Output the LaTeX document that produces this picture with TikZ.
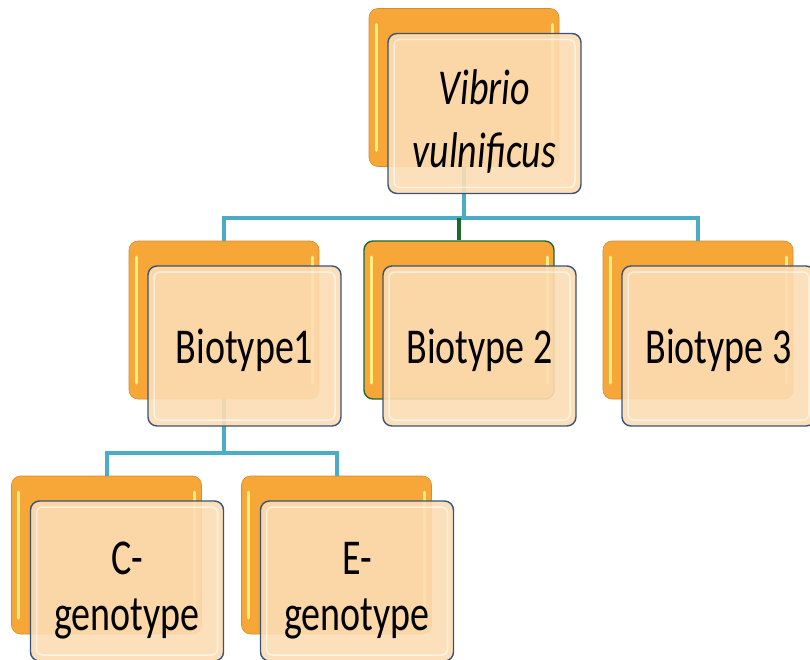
\documentclass[tikz,border=0pt]{standalone}
\usepackage{fontspec}
\setmainfont{Carlito}
\definecolor{vvorange}{RGB}{247,166,56}
\definecolor{vvlight}{RGB}{255,238,130}
\definecolor{vvpeach}{RGB}{252,221,180}
\definecolor{vvframe}{RGB}{58,82,120}
\definecolor{vvlink}{RGB}{75,172,198}
\definecolor{vvgreen}{RGB}{30,105,45}

\newcommand{\boxtext}[2][6pt]{\raisebox{-#1}[\height][\depth]{\scalebox{1}[1.32]{\begin{tabular}{@{}c@{}}#2\end{tabular}}}}

\begin{document}
\begin{tikzpicture}[x=1pt,y=-1pt,
  backbox/.style={draw=vvorange!85!black,line width=0.6pt,fill=vvorange,
    rounded corners=9pt,minimum width=190pt,minimum height=158pt,inner sep=0pt,
    path picture={
      \draw[vvlight,line width=3pt,line cap=round]
        ([shift={(7,16)}]path picture bounding box.north west) --
        ([shift={(7,-16)}]path picture bounding box.south west);
      \draw[vvlight,line width=3pt,line cap=round]
        ([shift={(-7,16)}]path picture bounding box.north east) --
        ([shift={(-7,-16)}]path picture bounding box.south east);}},
  frontbox/.style={draw=vvframe,line width=1.4pt,fill=vvpeach,fill opacity=0.9,
    text opacity=1,rounded corners=9pt,minimum width=193pt,minimum height=160pt,
    inner sep=0pt,align=center,font=\fontsize{38}{44}\selectfont,
    path picture={
      \draw[white,opacity=0.6,line width=1.5pt,rounded corners=6pt]
        ([shift={(6,6)}]path picture bounding box.north west) rectangle
        ([shift={(-6,-6)}]path picture bounding box.south east);}},
  link/.style={vvlink,line width=4pt}]
  \clip (0,0) rectangle (810,660);
  \useasboundingbox (0,0) rectangle (810,660);

  \node[backbox] (vvback) at (464,87.5) {};
  \node[backbox] (b1back) at (224,320) {};
  \node[backbox,draw=vvgreen,line width=1.4pt] (b2back) at (459,320) {};
  \node[backbox] (b3back) at (698,320) {};
  \node[backbox] (cback) at (106.5,555) {};
  \node[backbox] (eback) at (336.5,555) {};

  \path (vvback.south) ++(0,51.5) coordinate (hub);
  \draw[link] (vvback.south) -- (hub);
  \draw[link] (hub) -| (b1back.north);
  \draw[link] (hub) -| (b3back.north);
  \draw[link] (hub -| b1back.north) -- (hub -| b3back.north);
  \draw[vvgreen,line width=4pt] (hub -| b2back.north) -- (b2back.north);

  \path (b1back.south) ++(0,54) coordinate (hub2);
  \draw[link] (b1back.south) -- (hub2);
  \draw[link] (hub2) -| (cback.north);
  \draw[link] (hub2) -| (eback.north);

  \node[frontbox] (vv) at ([shift={(20.5,26)}]vvback) {\boxtext[11pt]{\itshape Vibrio\\[4pt]\itshape vulnificus}};
  \node[frontbox] (b1) at ([shift={(20.5,26)}]b1back) {\boxtext{Biotype1}};
  \node[frontbox] (b2) at ([shift={(20.5,26)}]b2back) {\boxtext{Biotype 2}};
  \node[frontbox] (b3) at ([shift={(20.5,26)}]b3back) {\boxtext{Biotype 3}};
  \node[frontbox] (cgen) at ([shift={(20.5,26)}]cback) {\boxtext[10pt]{C-\\[-2pt]genotype}};
  \node[frontbox] (egen) at ([shift={(20.5,26)}]eback) {\boxtext[10pt]{E-\\[-2pt]genotype}};
\end{tikzpicture}
\end{document}
